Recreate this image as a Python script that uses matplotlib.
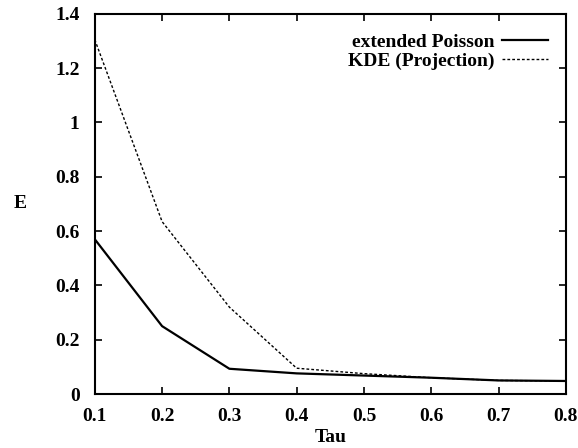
import numpy as np
import matplotlib
matplotlib.use("Agg")
import matplotlib.pyplot as plt

tau = [0.1, 0.2, 0.3, 0.4, 0.5, 0.6, 0.7, 0.8]
ext_poisson = [0.57, 0.25, 0.093, 0.076, 0.068, 0.06, 0.05, 0.048]
kde_proj = [1.305, 0.635, 0.32, 0.095, 0.075, 0.06, 0.05, 0.048]

xticks = [0.1, 0.2, 0.3, 0.4, 0.5, 0.6, 0.7, 0.8]
yticks = [0, 0.2, 0.4, 0.6, 0.8, 1, 1.2, 1.4]
ytick_labels = ["0", "0.2", "0.4", "0.6", "0.8", "1", "1.2", "1.4"]

plt.rcParams['font.family'] = ['Liberation Serif', 'DejaVu Serif']
plt.rcParams['font.weight'] = 'bold'

fig = plt.figure(figsize=(5.78, 4.48), dpi=100)
ax = fig.add_axes([0.164, 0.1205, 0.815, 0.8485])

ax.plot(tau, ext_poisson, color='black', lw=1.6, label='extended Poisson')
ax.plot(tau, kde_proj, color='black', lw=1.0, ls=(0, (2, 1.5)), label='KDE (Projection)')

ax.set_xlim(0.1, 0.8)
ax.set_ylim(0, 1.4)
ax.set_xticks(xticks)
ax.set_xticklabels([str(t) for t in xticks])
ax.set_yticks(yticks)
ax.set_yticklabels(ytick_labels)
ax.tick_params(direction='in', top=True, right=True, length=5, width=1.2,
               labelsize=14)
ax.tick_params(axis='x', pad=10)
ax.tick_params(axis='y', pad=11)
for s in ax.spines.values():
    s.set_linewidth(1.5)

ax.set_xlabel('Tau', fontsize=14, fontweight='bold', labelpad=3)
ax.set_ylabel('E', fontsize=14, fontweight='bold', rotation=0, labelpad=25, va='center')

ax.legend(loc='upper right', frameon=False, markerfirst=False, fontsize=14,
          handlelength=2.4, handletextpad=0.35, labelspacing=0.05,
          borderaxespad=0.5, bbox_to_anchor=(1.0, 0.995))

fig.savefig('out.png', dpi=100)
